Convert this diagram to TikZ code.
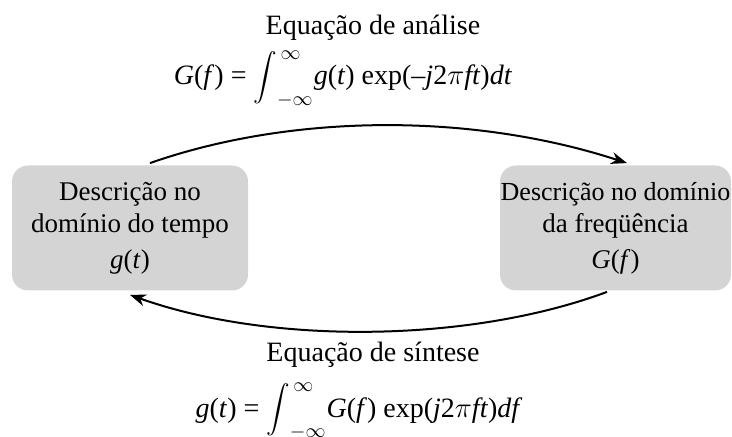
\documentclass[tikz,border=0pt]{standalone}
\usepackage{amsmath}
\usepackage{graphicx}
\usepackage{fontspec}
\setmainfont{Liberation Serif}
\usetikzlibrary{arrows.meta}
\definecolor{boxgray}{RGB}{212,212,212}
\newcommand{\myint}{\mathop{\vcenter{\hbox{\scalebox{0.82}{$\displaystyle\int$}}}}\nolimits}
\newcommand{\iv}[1]{\textit{#1}}
\begin{document}
\begin{tikzpicture}[x=0.5pt,y=-0.5pt,
  txt/.style={font=\fontsize{14}{16}\selectfont, inner sep=0pt},
  domainbox/.style={fill=boxgray, rounded corners=8pt, align=center, inner sep=0pt,
     font=\fontsize{13.5}{16}\selectfont, minimum height=62.5pt},
  conn/.style={line width=1pt, -{Stealth[length=8pt,width=6pt]}}]
\useasboundingbox (0,0) rectangle (732,437);
\node[domainbox, minimum width=118pt] (L) at (130,228)
  {Descrição no\\domínio do tempo\\[2pt]\iv{g}(\iv{t})};
\node[domainbox, minimum width=115.5pt] (R) at (615.5,228)
  {\fontsize{13}{16}\selectfont Descrição no domínio\\da freqüência\\[2pt]\iv{G}(\iv{f}\/)};
\node[txt] (ta) at (373,28) {Equação de análise};
\node[txt, anchor=base] (fa) at (343,85)
  {\iv{G}(\iv{f}\/) = $\myint_{-\infty}^{\,\infty}$\iv{g}(\iv{t}) exp(–\iv{j}2$\pi$\iv{ft})\iv{dt}};
\node[txt] (ts) at (373,355) {Equação de síntese};
\node[txt, anchor=base] (fs) at (359,417)
  {\iv{g}(\iv{t}) = $\myint_{-\infty}^{\,\infty}$\iv{G}(\iv{f}\/) exp(\iv{j}2$\pi$\iv{ft})\iv{df}};
\draw[conn] ([xshift=10pt,yshift=1pt]L.north) .. controls (290,114) and (470,112) .. ([xshift=5.75pt,yshift=1pt]R.north);
\draw[conn] ([xshift=-4.25pt,yshift=-0.5pt]R.south) .. controls (470,343) and (270,345) .. ([yshift=-2pt]L.south);
\end{tikzpicture}
\end{document}
